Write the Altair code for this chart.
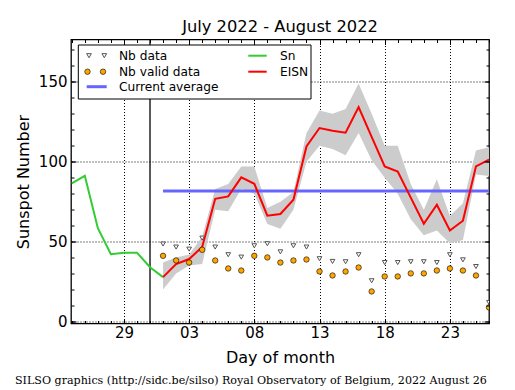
import altair as alt
import pandas as pd

# ---------------- data ----------------
start_date = "2022-07-25"
separator_date = "2022-07-31"

sn_dates = ["2022-07-25", "2022-07-26", "2022-07-27", "2022-07-28",
            "2022-07-29", "2022-07-30", "2022-07-31", "2022-08-01"]
sn_values = [86.5, 91.2, 58.4, 42.1, 43.1, 43.1, 34.0, 27.8]

eisn_dates = [f"2022-08-{d:02d}" for d in range(1, 27)]
eisn_values = [27.8, 35.9, 39.1, 46.6, 76.8, 78.3, 90.2, 86.2, 66.2, 67.3,
               76.2, 109.6, 121.1, 119.4, 118.2, 134.2, 115.5, 97.1, 93.9, 77.5,
               61.2, 73.1, 57.0, 63.1, 97.1, 101.3]
eisn_upper = [37, 40, 42, 53, 83, 86, 97, 97, 71, 75,
              81, 118, 132, 130, 133, 149, 130, 110, 110, 86,
              70, 89, 66, 74, 107, 109]
eisn_lower = [20, 30, 35, 36, 70, 69, 83, 80, 61, 58,
              70, 100, 110, 108, 104, 118, 101, 90, 80, 64,
              54, 57, 49, 51, 92, 91]
nb_data = [48.5, 46.6, 45.3, 52.2, 46.6, 41.8, 40.3, 47.4, 48.7, 43.6,
           47.4, 46.6, 39.3, 37.6, 37.4, 41.8, 25.5, 36.9, 36.9, 37.4,
           37.4, 36.9, 41.8, 38.6, 34.4, 11.9]
nb_valid = [41.1, 38.2, 36.9, 44.9, 38.2, 33.2, 31.9, 41.1, 40.1, 36.9,
            38.2, 38.8, 31.3, 28.8, 31.3, 33.8, 18.8, 28.2, 28.2, 30.1,
            30.1, 31.9, 33.2, 31.9, 28.8, 8.8]
avg_dates = ["2022-08-01", "2022-08-26"]
avg_values = [81.7, 81.7]

x_major_dates = ["2022-07-29", "2022-08-03", "2022-08-08",
                 "2022-08-13", "2022-08-18", "2022-08-23"]
y_major = [0, 50, 100, 150]
y_minor = list(range(0, 180, 10))

title_text = "July 2022 - August 2022"
footer_text = "SILSO graphics (http://sidc.be/silso) Royal Observatory of Belgium, 2022 August 26"

# ---------------- helpers ----------------
t0 = pd.Timestamp(start_date)


def idx(dates):
    return [(pd.Timestamp(d) - t0).days for d in dates]


sn_df = pd.DataFrame({"d": idx(sn_dates), "v": sn_values})
eisn_df = pd.DataFrame({"d": idx(eisn_dates), "v": eisn_values,
                        "hi": eisn_upper, "lo": eisn_lower,
                        "nb": nb_data, "nbv": nb_valid})
avg_df = pd.DataFrame({"d": idx(avg_dates), "v": avg_values})
sep_df = pd.DataFrame({"d": idx([separator_date])})
x_major = idx(x_major_dates)
x_minor = list(range(0, 33))

W, H = 418, 284
XD = [-0.06, 32.0]
YD = [-1.25, 176.5]
FONT = "DejaVu Sans"


def X(field, axis):
    return alt.X(f"{field}:Q", scale=alt.Scale(domain=XD, nice=False, zero=False), axis=axis)


def Y(field, axis):
    return alt.Y(f"{field}:Q", scale=alt.Scale(domain=YD, nice=False, zero=False), axis=axis)


label_expr = "timeFormat(datetime(2022, 6, 25 + datum.value), '%d')"

# grey band with main (labelled) axes
band = alt.Chart(eisn_df).mark_area(color="#cccccc").encode(
    x=X("d", alt.Axis(orient="bottom", values=x_major, labelExpr=label_expr,
                      grid=True, gridDash=[1, 2], gridColor="black", gridWidth=1,
                      ticks=False, domain=False, title="Day of month",
                      labelFontSize=15, titleFontSize=16, labelPadding=2,
                      titlePadding=9, labelFont=FONT, titleFont=FONT,
                      labelColor="black", titleColor="black",
                      titleFontWeight="normal")),
    y=Y("lo", alt.Axis(orient="left", values=y_major, grid=True, gridDash=[1, 2],
                       gridColor="black", gridWidth=1, ticks=False, domain=False,
                       title="Sunspot Number", labelFontSize=15, titleFontSize=16,
                       labelPadding=4, titlePadding=7, labelFont=FONT,
                       titleFont=FONT, labelColor="black", titleColor="black",
                       titleFontWeight="normal")),
    y2="hi:Q",
)


def tick_layer(xo, yo, xv, yv, size):
    common = dict(labels=False, domain=False, grid=False, title=None,
                  tickColor="black", tickWidth=1, zindex=1)
    return alt.Chart(eisn_df).mark_point(opacity=0).encode(
        x=X("d", alt.Axis(orient=xo, offset=-H, values=xv, tickSize=size, **common)),
        y=Y("v", alt.Axis(orient=yo, offset=-W, values=yv, tickSize=size, **common)),
    )


ticks = [
    tick_layer("top", "right", x_major, y_major, 5),
    tick_layer("bottom", "left", x_major, y_major, 5),
    tick_layer("top", "right", x_minor, y_minor, 3),
    tick_layer("bottom", "left", x_minor, y_minor, 3),
]

sep_rule = alt.Chart(sep_df).mark_rule(color="black", strokeWidth=1.3).encode(
    x=X("d", None))

sn_line = alt.Chart(sn_df).mark_line(color="#32cd32", strokeWidth=2).encode(
    x=X("d", None), y=Y("v", None))

avg_line = alt.Chart(avg_df).mark_line(color="#6666ff", strokeWidth=3).encode(
    x=X("d", None), y=Y("v", None))

eisn_line = alt.Chart(eisn_df).mark_line(color="#ff0000", strokeWidth=2).encode(
    x=X("d", None), y=Y("v", None))

nb_pts = alt.Chart(eisn_df).mark_point(
    shape="triangle-down", filled=True, fill="white", stroke="#555555",
    strokeWidth=1, size=22, opacity=1, clip=True).encode(
    x=X("d", None), y=Y("nb", None))

nbv_pts = alt.Chart(eisn_df).mark_point(
    shape="circle", filled=True, fill="#ffa500", stroke="black",
    strokeWidth=0.6, size=30, opacity=1, clip=True).encode(
    x=X("d", None), y=Y("nbv", None))

# ---------------- legend (drawn by hand, matplotlib style) ----------------
one = pd.DataFrame({"k": [0]})


def ltext(txt, x, y, size=12, font=FONT, align="left", baseline="middle"):
    return alt.Chart(one).mark_text(align=align, baseline=baseline, font=font,
                                    fontSize=size, color="black").encode(
        x=alt.value(x), y=alt.value(y), text=alt.value(txt))


def lsym(x, y, shape, fill, stroke, sw, size):
    return alt.Chart(one).mark_point(shape=shape, filled=True, fill=fill,
                                     stroke=stroke, strokeWidth=sw, size=size,
                                     opacity=1).encode(
        x=alt.value(x), y=alt.value(y))


def lline(x1, x2, y, color, w):
    return alt.Chart(one).mark_rule(color=color, strokeWidth=w).encode(
        x=alt.value(x1), x2=alt.value(x2), y=alt.value(y))


legend_box = alt.Chart(one).mark_rect(fill="white", stroke="black",
                                      strokeWidth=1).encode(
    x=alt.value(7.3), x2=alt.value(240), y=alt.value(5.5), y2=alt.value(59.5))

r1, r2, r3 = 16.2, 32.2, 47.2
legend = [
    legend_box,
    lsym(18, r1, "triangle-down", "white", "#555555", 1, 22),
    lsym(33.3, r1, "triangle-down", "white", "#555555", 1, 22),
    ltext("Nb data", 48, r1, size=12.2),
    lsym(16.5, r2, "circle", "#ffa500", "black", 0.6, 30),
    lsym(32, r2, "circle", "#ffa500", "black", 0.6, 30),
    ltext("Nb valid data", 48, r2, size=12.2),
    lline(15.7, 35.7, r3, "#6666ff", 3),
    ltext("Current average", 48, r3, size=12.2),
    lline(177.3, 195.7, r1, "#32cd32", 2),
    ltext("Sn", 209, r1, size=12.2),
    lline(177.3, 195.7, r2, "#ff0000", 2),
    ltext("EISN", 209, r2, size=12.2),
]

title = ltext(title_text, W / 2, -7.8, size=16.3, align="center", baseline="alphabetic")
footer = ltext(footer_text, -56, 344.5, size=11.1, font="DejaVu Serif",
               baseline="alphabetic")

chart = alt.layer(
    band, *ticks, sep_rule, sn_line, avg_line, eisn_line, nb_pts, nbv_pts,
    *legend, title, footer
).resolve_axis(x="independent", y="independent").properties(
    width=W, height=H,
    autosize=alt.AutoSizeParams(type="none"),
    padding={"left": 63, "top": 31.5, "right": 18, "bottom": 63.5},
).configure_view(stroke="black", strokeWidth=1.3)

chart.save("out.html", embed_options={"renderer": "svg", "actions": False})
